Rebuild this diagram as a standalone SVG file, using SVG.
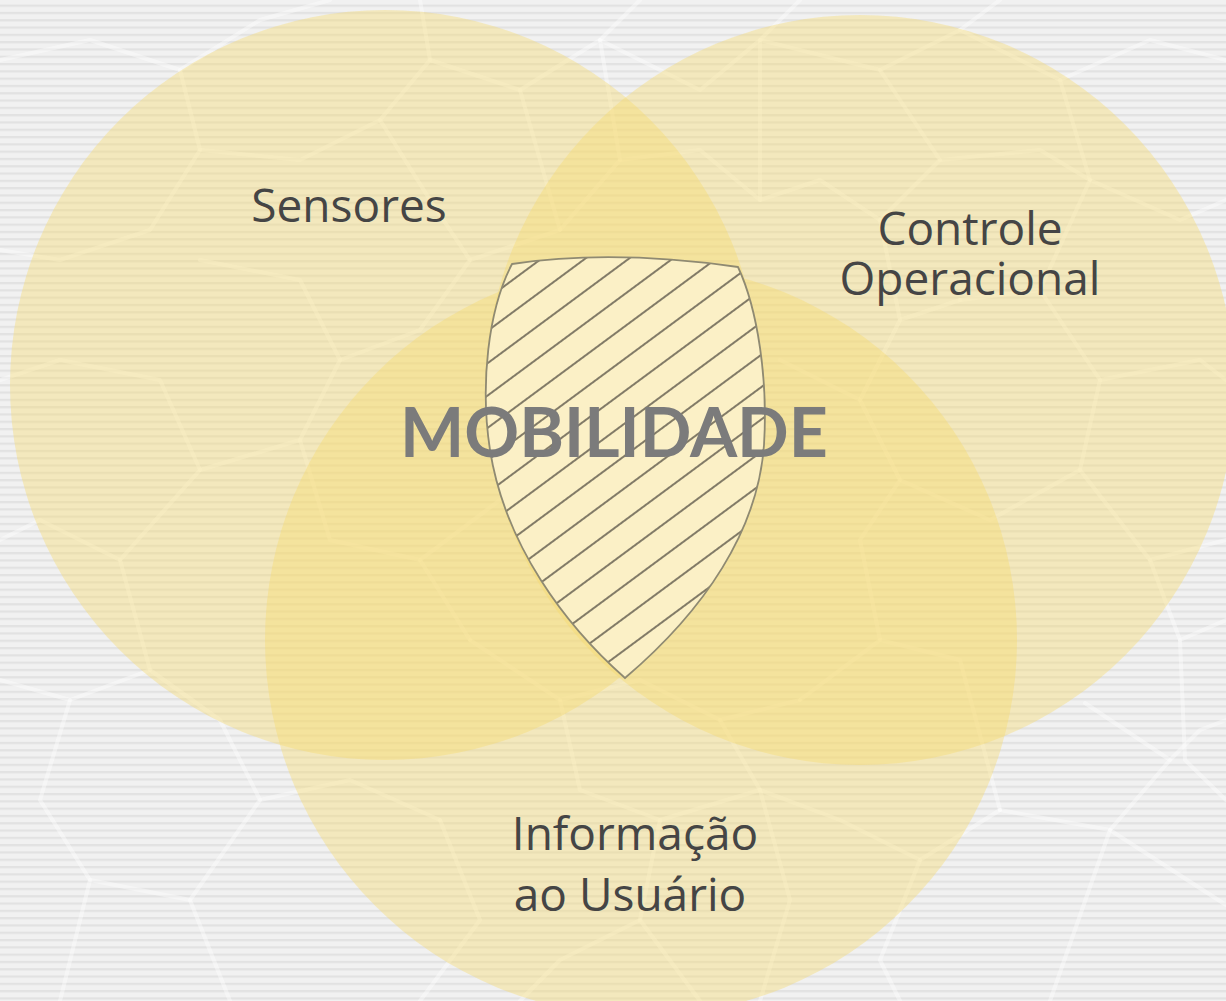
<svg xmlns="http://www.w3.org/2000/svg" width="1226" height="1001" viewBox="0 0 1226 1001">
  <defs>
    <pattern id="stripes" x="0" y="0" width="20" height="7.3" patternUnits="userSpaceOnUse">
      <rect width="20" height="7.3" fill="#f1f1f1"/>
      <rect y="4.6" width="20" height="2.2" fill="#e2e2e2"/>
    </pattern>
    <pattern id="hatch" x="0" y="0" width="26" height="26" patternUnits="userSpaceOnUse" patternTransform="rotate(-36.5)">
      <rect width="26" height="26" fill="#fbf0c6"/>
      <line x1="0" y1="10" x2="26" y2="10" stroke="#746e5c" stroke-width="1.8"/>
    </pattern>
  </defs>
  <style>
    .circle { fill: #f7d96a; fill-opacity: 0.38; }
    .net { fill: none; stroke: #ffffff; stroke-opacity: 0.4; stroke-width: 4; stroke-linecap: round; stroke-linejoin: round; }
    .label { font-family: "Open Sans", Lato, "Liberation Sans", sans-serif; font-size: 46px; fill: #454545; text-anchor: middle; }
    .title { font-family: Lato, "Open Sans", "Liberation Sans", sans-serif; font-size: 68px; font-weight: bold; fill: #7b7b7b; text-anchor: middle; }
  </style>

  <g id="background">
    <rect width="1226" height="1001" fill="url(#stripes)"/>
    <g class="net">
      <path d="M0,60 L90,40 L180,70 L260,20 L330,0"/>
      <path d="M180,70 L200,150 L150,230 L60,260 L0,250"/>
      <path d="M200,150 L300,160 L380,120 L430,60 L420,0"/>
      <path d="M430,60 L520,90 L600,40 L640,0"/>
      <path d="M600,40 L700,90 L760,40 L800,0"/>
      <path d="M760,40 L880,70 L960,30 L1000,0"/>
      <path d="M960,30 L1060,80 L1150,40 L1226,60"/>
      <path d="M1060,80 L1090,180 L1180,220 L1226,200"/>
      <path d="M1090,180 L1040,290 L1100,380 L1200,360 L1226,380"/>
      <path d="M1100,380 L1080,470 L1150,560 L1226,540"/>
      <path d="M1080,470 L990,520 L900,480"/>
      <path d="M1150,560 L1180,640 L1226,620"/>
      <path d="M1180,640 L1185,760 L1226,800"/>
      <path d="M1085,703 L1170,760 L1200,730 L1226,720"/>
      <path d="M1000,810 L1110,830 L1170,760"/>
      <path d="M1110,830 L1226,905"/>
      <path d="M1110,830 L1050,1001"/>
      <path d="M1000,810 L920,860 L880,960 L900,1001"/>
      <path d="M0,680 L70,700 L150,670 L220,720 L260,800"/>
      <path d="M70,700 L40,800 L90,880 L60,1001"/>
      <path d="M90,880 L190,900 L260,800 L350,780 L440,820"/>
      <path d="M190,900 L230,1001"/>
      <path d="M440,820 L480,920 L420,1001"/>
      <path d="M150,670 L120,560 L40,520 L0,540"/>
      <path d="M120,560 L200,470 L160,380 L60,360 L0,380"/>
      <path d="M200,470 L300,440 L340,360 L300,280 L200,260"/>
      <path d="M340,360 L420,330 L470,260 L430,200 L380,120"/>
      <path d="M300,440 L330,540 L420,560 L470,640"/>
      <path d="M420,560 L500,500"/>
      <path d="M470,640 L560,700 L640,680 L720,720 L800,700"/>
      <path d="M560,700 L580,790 L660,820 L760,790"/>
      <path d="M720,720 L760,790 L840,820 L920,860"/>
      <path d="M800,700 L880,640 L960,660 L1000,810"/>
      <path d="M880,640 L860,540 L900,480 L860,400 L900,320 L960,300"/>
      <path d="M960,300 L1040,290"/>
      <path d="M860,400 L780,360"/>
      <path d="M900,320 L880,220 L940,160 L880,70"/>
      <path d="M940,160 L1040,150 L1090,180"/>
      <path d="M660,820 L640,920 L700,1001"/>
      <path d="M640,920 L560,960 L520,1001"/>
      <path d="M760,790 L790,900 L760,1001"/>
      <path d="M470,260 L560,230 L620,160 L700,150 L760,200 L820,180 L880,220"/>
      <path d="M620,160 L600,40"/>
      <path d="M520,90 L560,230"/>
      <path d="M760,200 L760,40"/>
    </g>
  </g>

  <g id="node-sensores">
    <circle class="circle" cx="385" cy="385" r="375"/>
  </g>
  <g id="node-controle">
    <circle class="circle" cx="860" cy="390" r="375"/>
  </g>
  <g id="node-informacao">
    <circle class="circle" cx="641" cy="640" r="376"/>
  </g>

  <g id="node-mobilidade">
    <path d="M512,264 Q612,249 738,267 C758,310 768,380 764,445 C758,530 705,610 625,678 C565,625 505,545 490,450 C480,385 488,310 512,264 Z" fill="url(#hatch)" stroke="#8f8a72" stroke-width="1.8"/>
  </g>

  <g id="labels">
    <text class="label" x="349" y="222">Sensores</text>
    <text class="label"><tspan x="970" y="245">Controle</tspan><tspan x="970" y="295">Operacional</tspan></text>
    <text class="label"><tspan x="635" y="850">Informação</tspan><tspan x="630" y="911">ao Usuário</tspan></text>
    <text class="title" x="614" y="457">MOBILIDADE</text>
  </g>

  <g id="connectors"></g>
</svg>
